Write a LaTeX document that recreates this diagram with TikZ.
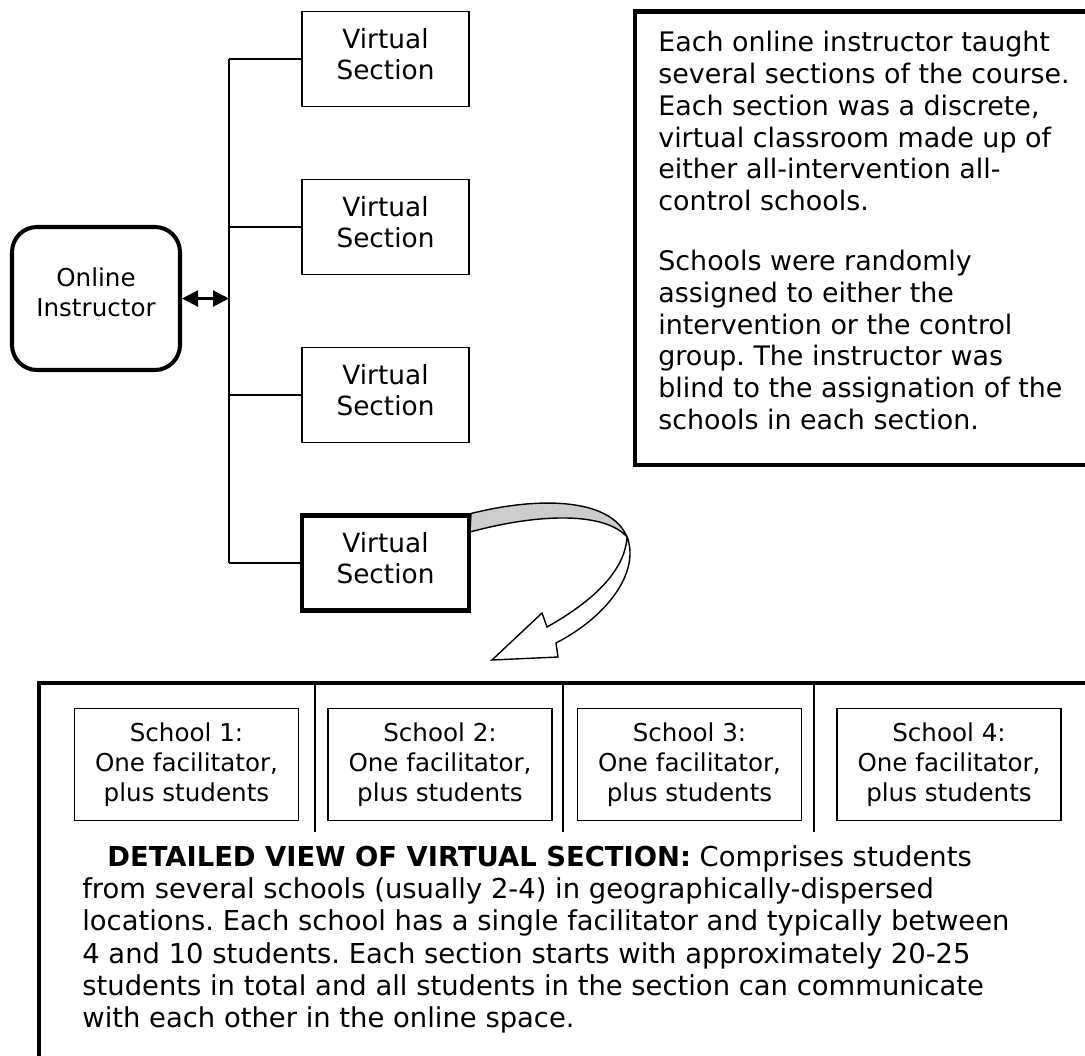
\documentclass[tikz,border=0pt]{standalone}
\usepackage{fontspec}
\setmainfont{DejaVu Sans}
\usetikzlibrary{arrows.meta}
\frenchspacing

\tikzset{
	secbox/.style={draw, line width=1pt, minimum width=3.34cm, minimum height=1.9cm,
		align=center, text depth=0.2cm, font=\fontsize{15}{18.1}\selectfont},
	schoolbox/.style={draw, line width=1pt, minimum width=4.48cm, minimum height=2.24cm,
		align=center, font=\fontsize{14}{17}\selectfont},
	branch/.style={line width=1pt},
	frame/.style={line width=2.3pt},
	bodytext/.style={align=left, inner sep=0pt, anchor=north west, font=\fontsize{15.3}{18.1}\selectfont},
	twohead/.style={{Triangle[length=0.32cm,width=0.32cm]}-{Triangle[length=0.32cm,width=0.32cm]}, line width=1.2pt},
}

\begin{document}
\begin{tikzpicture}[x=0.02cm, y=-0.02cm]
	\useasboundingbox (0,0) rectangle (1085,1055);
	\clip (0,0) rectangle (1085,1055);

	% instructor and the four sections
	\node[draw, rounded corners=0.5cm, line width=2.3pt, minimum width=3.36cm, minimum height=2.86cm,
		align=center, text depth=0.24cm, font=\fontsize{14}{17}\selectfont] (instr) at (96,298.5) {Online\\Instructor};

	\foreach \i/\y in {1/59, 2/227, 3/395}
		\node[secbox] (sec\i) at (385.5,\y) {Virtual\\Section};
	\node[secbox, line width=2.3pt] (sec4) at (385.5,563) {Virtual\\Section};

	\coordinate (trunk) at (229,298.5);
		\draw[branch] (sec1.west -| trunk) -- (sec4.west -| trunk);
		\foreach \i in {1,...,4}
			\draw[branch] (sec\i.west -| trunk) -- (sec\i.west);
	\draw[twohead] (instr.east) -- (trunk);

	% note on the right
	\draw[frame] (635,11.5) rectangle (1120,465);
	\node[bodytext] (note) at (658,31) {Each online instructor taught\\
		several sections of the course.\\
		Each section was a discrete,\\
		virtual classroom made up of\\
		either all-intervention all-\\
		control schools.\\[15.9pt]
		Schools were randomly\\
		assigned to either the\\
		intervention or the control\\
		group. The instructor was\\
		blind to the assignation of the\\
		schools in each section.};

	% curved arrow down to the detailed view
	\coordinate (twist) at (627,537);
	\draw[line width=0.8pt, fill=gray!40] (sec4.north east) .. controls (545,495) and (612,500) .. (twist)
		.. controls (605,512) and (540,513) .. (470,532) -- cycle;
	\draw[line width=0.8pt, fill=white] (twist) .. controls (640,570) and (610,615) .. (556,643)
		-- (558,657) -- (492,660) -- (542,613) -- (547,627)
		.. controls (595,600) and (625,570) .. (twist) -- cycle;

	% detailed view of one section
	\draw[frame] (39,683) rectangle (1120,1080);
	\foreach \x in {315, 563, 814}
		\draw[branch] (\x,683) -- (\x,832);
	\foreach \i/\x in {1/186.5, 2/440, 3/689.5, 4/949}
		\node[schoolbox] (school\i) at (\x,764.5) {School \i:\\One facilitator,\\plus students};

	\node[bodytext, font=\fontsize{15.6}{18.4}\selectfont] (detail) at (82,845) {\hspace*{0.5cm}\textbf{DETAILED VIEW OF VIRTUAL SECTION:} Comprises students\\
		from several schools (usually 2-4) in geographically-dispersed\\
		locations. Each school has a single facilitator and typically between\\
		4 and 10 students. Each section starts with approximately 20-25\\
		students in total and all students in the section can communicate\\
		with each other in the online space.};

\end{tikzpicture}
\end{document}
